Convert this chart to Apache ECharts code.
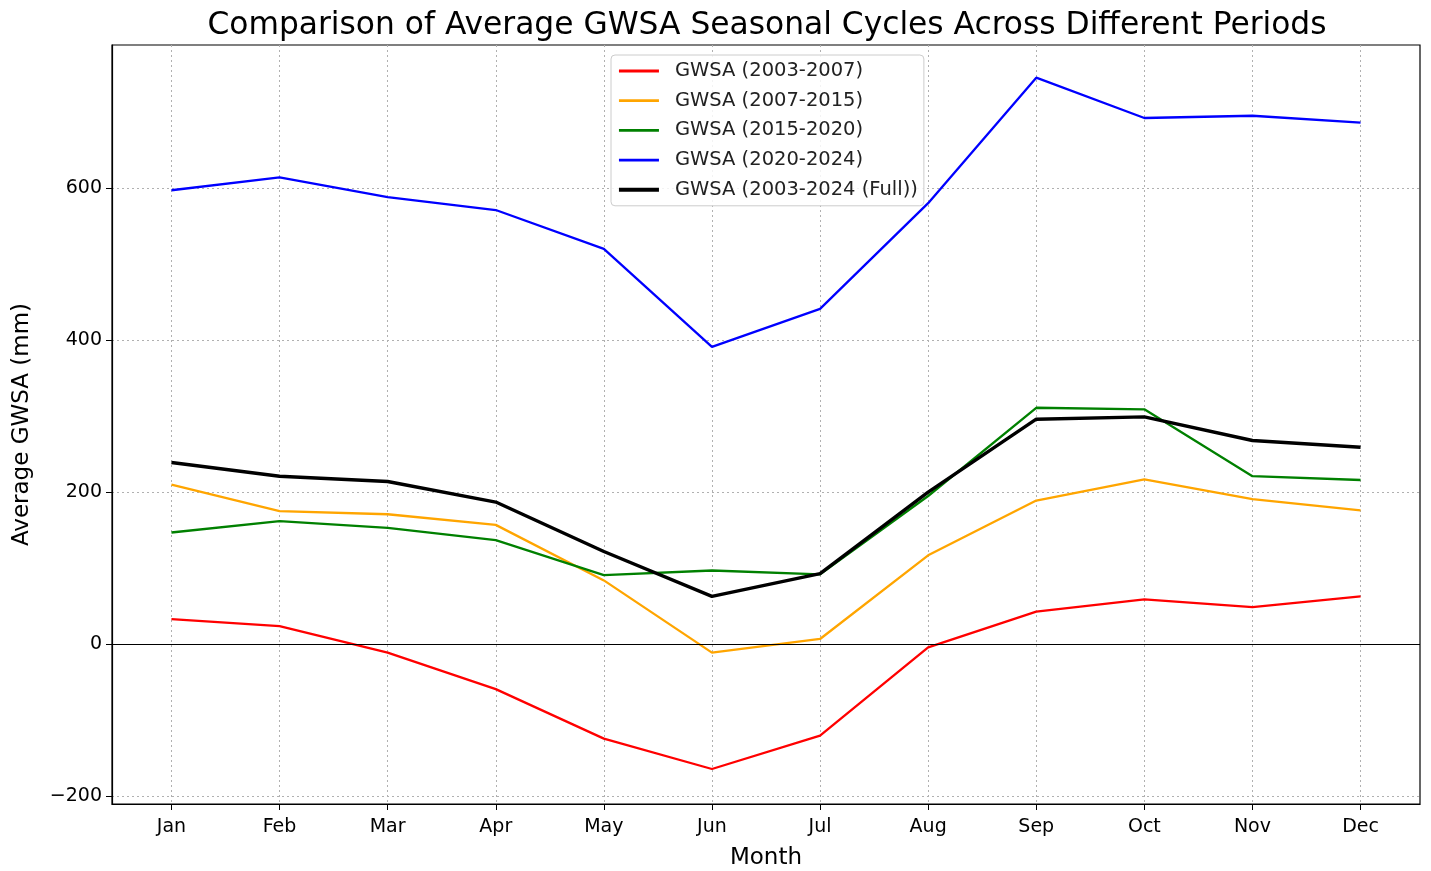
<!DOCTYPE html>
<html lang="en">
<head>
    <meta charset="UTF-8">
    <title>GWSA seasonal cycles</title>
    <script src="https://cdn.jsdelivr.net/npm/echarts@6/dist/echarts.min.js"></script>
    <style>
        html, body { margin: 0; padding: 0; background: #fff; }
        #chart { width: 1431px; height: 871px; }
    </style>
</head>
<body>
<div id="chart"></div>
<script>
    var months = ['Jan', 'Feb', 'Mar', 'Apr', 'May', 'Jun', 'Jul', 'Aug', 'Sep', 'Oct', 'Nov', 'Dec'];
    var yTicks = [-200, 0, 200, 400, 600];

    var gwsa0307 = [33, 24, -11, -59, -124, -164, -120, -4, 43, 59, 49, 63];
    var gwsa0715 = [210, 175, 171, 157, 84, -11, 7, 117, 189, 217, 191, 176];
    var gwsa1520 = [147, 162, 153, 137, 91, 97, 92, 195, 311, 309, 221, 216];
    var gwsa2024 = [597, 614, 588, 571, 520, 391, 441, 580, 745, 692, 695, 686];
    var gwsaFull = [239, 221, 214, 187, 122, 63, 93, 200, 296, 299, 268, 259];

    var seriesDefs = [
        {name: 'GWSA (2003-2007)', data: gwsa0307, color: '#ff0000', width: 2.3},
        {name: 'GWSA (2007-2015)', data: gwsa0715, color: '#ffa500', width: 2.3},
        {name: 'GWSA (2015-2020)', data: gwsa1520, color: '#008000', width: 2.3},
        {name: 'GWSA (2020-2024)', data: gwsa2024, color: '#0000ff', width: 2.3},
        {name: 'GWSA (2003-2024 (Full))', data: gwsaFull, color: '#000000', width: 3.4}
    ];

    var font = 'DejaVu Sans';
    var monthIdx = months.map(function (m, i) { return i; });

    var series = seriesDefs.map(function (s, k) {
        var out = {
            name: s.name,
            type: 'line',
            symbol: 'none',
            z: 3 + k,
            color: s.color,
            lineStyle: {color: s.color, width: s.width},
            data: s.data.map(function (v, i) { return [i, v]; })
        };
        // horizontal reference line at zero
        if (k === 0) {
            out.markLine = {
                silent: true,
                symbol: 'none',
                label: {show: false},
                lineStyle: {color: '#000', width: 1, type: 'solid'},
                data: [{yAxis: 0}]
            };
        }
        return out;
    });

    var chart = echarts.init(document.getElementById('chart'));
    chart.setOption({
        animation: false,
        backgroundColor: '#fff',
        textStyle: {fontFamily: font},
        title: {
            text: 'Comparison of Average GWSA Seasonal Cycles Across Different Periods',
            left: 762,
            textAlign: 'center',
            top: 5,
            textStyle: {fontFamily: font, fontSize: 31.3, fontWeight: 'normal', color: '#000'}
        },
        legend: {
            orient: 'vertical',
            left: 611,
            top: 55,
            padding: [6, 6, 6, 6],
            itemWidth: 40,
            itemHeight: 20,
            itemGap: 9.7,
            itemStyle: {opacity: 0},
            backgroundColor: 'rgba(255,255,255,0.85)',
            borderColor: '#cccccc',
            borderWidth: 1,
            borderRadius: 4,
            textStyle: {fontFamily: font, fontSize: 19.5, color: '#222', padding: [0, 0, 0, 11], lineHeight: 20},
            data: seriesDefs.map(function (s) {
                return {name: s.name, lineStyle: {color: s.color, width: s.width + 0.5}};
            })
        },
        grid: {
            left: 112,
            right: 11,
            top: 45,
            bottom: 67,
            outerBoundsMode: 'none',
            show: true,
            borderColor: '#000',
            borderWidth: 1.2
        },
        xAxis: {
            type: 'value',
            min: -0.55,
            max: 11.55,
            name: 'Month',
            nameLocation: 'middle',
            nameGap: 43,
            nameTextStyle: {fontFamily: font, fontSize: 23, color: '#000'},
            axisLine: {show: true, onZero: false, lineStyle: {color: '#000', width: 1.2}},
            axisTick: {show: true, length: 6, customValues: monthIdx, lineStyle: {color: '#000'}},
            axisLabel: {
                customValues: monthIdx,
                fontFamily: font, fontSize: 19, color: '#000', margin: 14,
                formatter: function (v) { return months[Math.round(v)]; }
            },
            splitLine: {show: true, lineStyle: {color: '#b0b0b0', type: [2, 3], width: 1}}
        },
        yAxis: {
            type: 'value',
            min: -210,
            max: 788,
            name: 'Average GWSA (mm)',
            nameLocation: 'middle',
            nameGap: 78,
            nameTextStyle: {fontFamily: font, fontSize: 23, color: '#000'},
            axisLine: {show: true, onZero: false, lineStyle: {color: '#000', width: 1.2}},
            axisTick: {show: true, length: 6, customValues: yTicks, lineStyle: {color: '#000'}},
            axisLabel: {
                customValues: yTicks,
                fontFamily: font, fontSize: 19, color: '#000', margin: 10,
                formatter: function (v) { return String(v).replace('-', '\u2212'); }
            },
            splitLine: {show: true, lineStyle: {color: '#b0b0b0', type: [2, 3], width: 1}}
        },
        series: series
    });
</script>
</body>
</html>
